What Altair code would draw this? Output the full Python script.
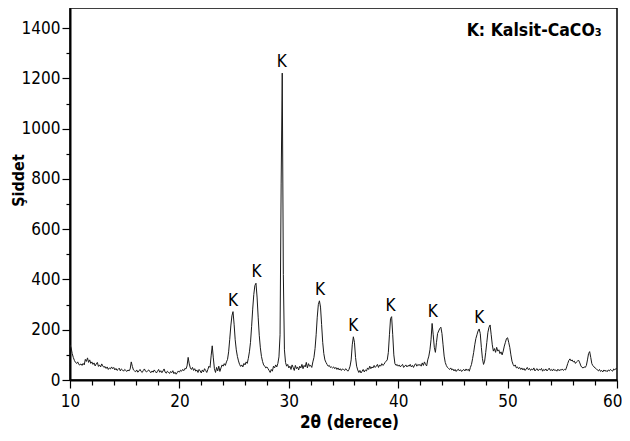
import altair as alt
import pandas as pd

# Intensity, 2θ = 10.0 ... 60.0 in steps of 0.1
intensity = [
    140, 128, 105, 90, 78, 70, 66, 72, 62, 60,      # 10
    64, 58, 66, 60, 82, 74, 88, 70, 80, 66,         # 11
    72, 62, 68, 56, 64, 70, 54, 60, 52, 64,         # 12
    56, 50, 54, 46, 52, 42, 48, 44, 52, 45,         # 13
    50, 40, 46, 38, 42, 47, 36, 44, 40, 35,         # 14
    42, 38, 34, 40, 36, 44, 72, 54, 40, 36,         # 15
    33, 40, 31, 36, 42, 34, 30, 38, 44, 35,         # 16
    32, 37, 40, 33, 29, 36, 31, 40, 34, 28,         # 17
    35, 42, 31, 37, 29, 36, 44, 31, 27, 35,         # 18
    31, 26, 34, 29, 37, 25, 31, 23, 29, 36,         # 19
    31, 39, 35, 42, 37, 46, 44, 56, 90, 64,         # 20
    48, 42, 50, 38, 45, 35, 40, 30, 42, 36,         # 21
    28, 40, 32, 45, 38, 30, 42, 55, 50, 96,         # 22
    136, 88, 45, 30, 50, 36, 55, 34, 48, 60,        # 23
    55, 65, 58, 72, 82, 112, 162, 215, 255, 272,    # 24
    222, 160, 120, 94, 76, 62, 54, 60, 52, 66,      # 25
    60, 72, 66, 86, 112, 150, 212, 282, 340, 376,   # 26
    385, 330, 250, 178, 128, 94, 74, 60, 55, 48,    # 27
    52, 45, 38, 30, 42, 35, 55, 48, 60, 52,         # 28
    66, 92, 180, 780, 1221, 420, 120, 70, 55, 62,   # 29
    48, 55, 42, 60, 50, 38, 58, 45, 52, 40,         # 30
    55, 48, 62, 45, 58, 52, 70, 48, 65, 55,         # 31
    58, 50, 72, 90, 125, 180, 250, 300, 315, 290,   # 32
    220, 150, 105, 80, 70, 62, 55, 58, 50, 52,      # 33
    48, 52, 45, 50, 42, 48, 40, 45, 38, 44,         # 34
    42, 38, 45, 40, 35, 42, 55, 80, 140, 172,       # 35
    150, 90, 55, 40, 30, 38, 28, 35, 42, 32,        # 36
    40, 36, 48, 42, 55, 45, 52, 48, 58, 50,         # 37
    55, 62, 50, 60, 55, 65, 58, 62, 70, 75,         # 38
    80, 110, 180, 245, 252, 180, 100, 65, 58, 62,   # 39
    55, 60, 52, 58, 62, 50, 55, 60, 52, 58,         # 40
    55, 62, 52, 58, 50, 60, 65, 55, 62, 58,         # 41
    62, 55, 68, 58, 72, 62, 56, 80, 95, 120,        # 42
    160, 225, 180, 130, 110, 150, 185, 195, 205, 210,  # 43
    185, 140, 95, 70, 58, 50, 46, 42, 48, 40,       # 44
    44, 36, 42, 34, 40, 43, 36, 41, 34, 39,         # 45
    42, 36, 44, 38, 43, 35, 50, 62, 85, 110,        # 46
    140, 165, 180, 195, 203, 185, 130, 85, 62, 75,  # 47
    110, 150, 190, 210, 219, 180, 140, 115, 125, 110,  # 48
    130, 115, 120, 105, 112, 100, 115, 135, 150, 165,  # 49
    168, 150, 130, 100, 75, 62, 55, 60, 48, 52,     # 50
    45, 50, 42, 48, 40, 46, 38, 44, 50, 41,         # 51
    46, 38, 44, 40, 48, 36, 42, 45, 37, 43,         # 52
    40, 46, 35, 42, 38, 44, 36, 41, 47, 38,         # 53
    42, 36, 44, 38, 40, 35, 43, 37, 41, 39,         # 54
    44, 38, 42, 40, 52, 66, 78, 84, 76, 80,         # 55
    72, 75, 66, 72, 76, 78, 68, 56, 50, 48,         # 56
    52, 50, 58, 80, 105, 113, 90, 65, 57, 52,       # 57
    48, 45, 40, 36, 42, 34, 38, 32, 40, 35,         # 58
    38, 33, 40, 36, 42, 38, 35, 44, 40, 46,         # 59
    45,                                             # 60
]
two_theta = [round(10 + 0.1 * i, 1) for i in range(len(intensity))]

# Peak labels
peak_x = [24.9, 27.05, 29.35, 32.85, 35.9, 39.3, 43.15, 47.4]
peak_y = [272, 385, 1221, 315, 172, 252, 225, 203]
peak_text = ["K"] * len(peak_x)

# Legend note
note_x = [58.6]
note_y = [1368]
note_text = ["K: Kalsit-CaCO₃"]

x_major = [10, 20, 30, 40, 50]
x_end = [60]
x_minor = [12, 14, 16, 18, 22, 24, 26, 28, 32, 34, 36, 38, 42, 44, 46, 48, 52, 54, 56, 58]
y_major = [0, 200, 400, 600, 800, 1000, 1200, 1400]
y_minor = [100, 300, 500, 700, 900, 1100, 1300]

FONT = "'DejaVu Sans Condensed', 'Open Sans', sans-serif"

df = pd.DataFrame({"two_theta": two_theta, "intensity": intensity})
df_peaks = pd.DataFrame({"x": peak_x, "y": peak_y, "t": peak_text})
df_note = pd.DataFrame({"x": note_x, "y": note_y, "t": note_text})

xscale = alt.Scale(domain=[10, 60], nice=False, zero=False)
yscale = alt.Scale(domain=[0, 1480], nice=False, zero=False)

line = alt.Chart(df).mark_line(color="#1a1a1a", strokeWidth=1, clip=True).encode(
    x=alt.X("two_theta:Q", scale=xscale,
            axis=alt.Axis(values=x_major, title="2θ (derece)", orient="bottom",
                          tickSize=8, labelPadding=5, format="d", labelFlush=False,
                          titleX=279, titleY=47, titleBaseline="alphabetic")),
    y=alt.Y("intensity:Q", scale=yscale,
            axis=alt.Axis(values=y_major, title="Şiddet", orient="left",
                          tickSize=8, labelPadding=2, format="d", labelFlush=False,
                          titleX=-47, titleY=172, titleAngle=270,
                          titleFontSize=16, titleBaseline="alphabetic")),
)

minor = alt.Chart(df).mark_line(opacity=0).encode(
    x=alt.X("two_theta:Q", scale=xscale,
            axis=alt.Axis(values=x_minor, labels=False, title="", orient="bottom",
                          tickSize=5, domain=False)),
    y=alt.Y("intensity:Q", scale=yscale,
            axis=alt.Axis(values=y_minor, labels=False, title="", orient="left",
                          tickSize=4, domain=False)),
)

end_axis = alt.Chart(df).mark_line(opacity=0).encode(
    x=alt.X("two_theta:Q", scale=xscale,
            axis=alt.Axis(values=x_end, title="", orient="bottom", format="d",
                          tickSize=8, labelPadding=5, domain=False,
                          labelFlush=True, labelFlushOffset=5)),
    y=alt.Y("intensity:Q", scale=yscale, axis=None),
)

peaks = alt.Chart(df_peaks).mark_text(
    baseline="bottom", dy=-2, fontSize=17, font=FONT, color="black"
).encode(
    x=alt.X("x:Q", scale=xscale, axis=None),
    y=alt.Y("y:Q", scale=yscale, axis=None),
    text="t:N",
)

note = alt.Chart(df_note).mark_text(
    align="right", baseline="alphabetic", fontSize=17.5, fontWeight="bold",
    font=FONT, color="black"
).encode(
    x=alt.X("x:Q", scale=xscale, axis=None),
    y=alt.Y("y:Q", scale=yscale, axis=None),
    text="t:N",
)

chart = alt.layer(line, minor, end_axis, peaks, note).resolve_axis(
    x="independent", y="independent"
).properties(
    width=547, height=372,
    autosize=alt.AutoSizeParams(type="none"),
    padding={"left": 62, "top": 0, "right": 5, "bottom": 53},
).configure_view(
    stroke="black", strokeWidth=1.5
).configure_axis(
    grid=False,
    domainColor="black", domainWidth=2,
    tickColor="black", tickWidth=1.2,
    labelFont=FONT, labelFontSize=17, labelColor="black",
    titleFont=FONT, titleFontSize=17, titleFontWeight="bold", titleColor="black",
)

chart.save("out.html", embed_options={"renderer": "svg", "actions": False})
